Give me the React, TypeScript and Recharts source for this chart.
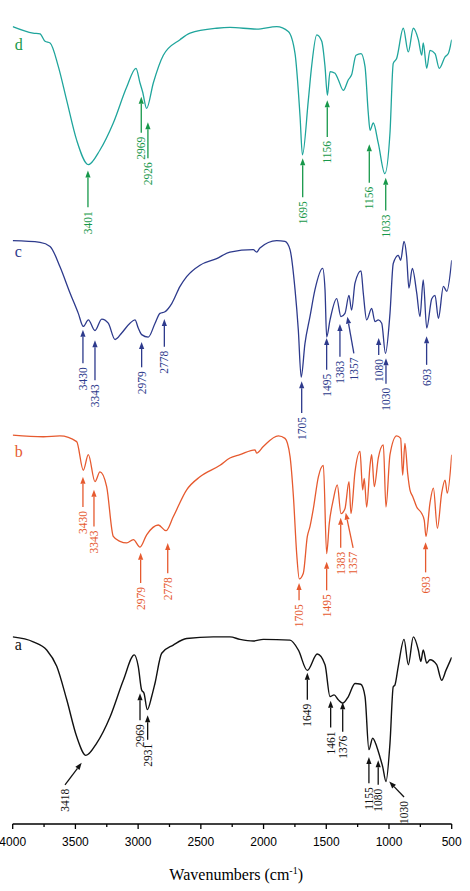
import React from 'react';
import { LineChart, Line, XAxis, YAxis, ReferenceLine, ReferenceDot, Label } from 'recharts';

// ---- spectra: [wavenumber (cm-1), offset transmittance (a.u.)] ----
const SPEC_D: [number, number][] = [[4000,97.6],[3838,96.8],[3782,96.7],[3742,95.8],[3702,95.6],[3636,92.7],[3570,88.6],[3490,83.7],[3397,80.7],[3304,82.5],[3198,85.8],[3091,90.2],[3017,92.5],[2985,90.7],[2964,89.6],[2932,87.6],[2879,90.7],[2799,94.1],[2666,96.0],[2586,96.8],[2374,97.4],[2268,97.5],[2055,97.3],[1895,97.6],[1803,97.0],[1749,94.3],[1709,86.6],[1690,81.9],[1643,88.6],[1617,92.7],[1576,96.6],[1536,95.8],[1510,92.7],[1491,89.2],[1470,92.1],[1430,91.9],[1404,91.1],[1364,89.8],[1324,91.1],[1298,91.7],[1263,94.1],[1223,94.3],[1191,92.7],[1165,87.0],[1151,84.9],[1125,85.8],[1085,83.3],[1033,79.6],[992,84.6],[966,93.1],[939,93.7],[886,97.4],[846,94.5],[806,97.4],[766,96.0],[739,94.1],[727,95.6],[699,92.5],[673,94.7],[633,94.3],[599,92.5],[553,93.9],[527,94.3],[500,96.0]];

const SPEC_C: [number, number][] = [[4000,71.4],[3782,71.2],[3702,70.7],[3623,68.2],[3543,65.0],[3477,62.5],[3437,60.9],[3397,61.7],[3344,60.4],[3290,61.8],[3238,61.3],[3184,59.3],[3131,60.1],[3065,61.3],[3025,61.7],[2999,60.7],[2972,59.9],[2919,59.6],[2865,61.3],[2826,62.5],[2786,62.7],[2732,63.7],[2666,65.8],[2613,67.0],[2507,68.4],[2374,69.2],[2268,70.0],[2082,70.3],[2055,70.0],[2029,70.5],[1895,71.4],[1829,71.3],[1789,70.3],[1749,65.4],[1723,60.5],[1700,54.7],[1670,58.8],[1630,62.1],[1590,65.4],[1529,68.0],[1510,65.4],[1497,59.6],[1470,61.7],[1417,64.3],[1383,62.1],[1351,62.5],[1319,64.7],[1298,62.9],[1271,66.2],[1223,67.7],[1205,65.0],[1178,61.7],[1138,63.1],[1112,61.5],[1085,61.7],[1058,61.3],[1028,57.6],[992,62.5],[966,68.6],[926,69.6],[907,69.0],[880,71.3],[859,69.4],[841,65.6],[814,68.0],[779,65.0],[753,62.1],[727,66.6],[699,60.7],[659,64.3],[633,64.7],[606,61.9],[566,65.8],[539,65.2],[500,69.0]];

const SPEC_B: [number, number][] = [[4000,47.6],[3756,47.4],[3623,47.5],[3490,46.8],[3437,43.3],[3397,45.2],[3344,41.9],[3304,43.1],[3251,41.3],[3198,35.2],[3145,34.6],[3091,34.4],[3038,34.8],[2985,33.9],[2932,35.4],[2839,36.6],[2778,35.9],[2720,37.6],[2613,40.9],[2507,42.5],[2347,43.9],[2268,44.8],[2188,45.2],[2068,45.8],[2055,45.4],[2002,46.2],[1882,47.5],[1829,47.2],[1789,45.0],[1762,40.1],[1736,33.1],[1715,30.0],[1683,30.7],[1651,35.2],[1630,36.4],[1603,38.6],[1563,42.5],[1523,43.9],[1497,33.1],[1476,36.8],[1444,39.7],[1412,41.5],[1383,38.0],[1351,38.6],[1319,41.9],[1303,38.0],[1271,43.1],[1231,45.6],[1210,40.9],[1197,42.3],[1178,38.8],[1151,43.9],[1138,45.2],[1117,41.3],[1085,44.8],[1045,46.4],[1024,38.8],[992,45.2],[939,47.5],[907,47.2],[891,42.7],[873,46.6],[851,42.9],[833,40.9],[811,40.1],[779,38.8],[739,38.0],[719,37.2],[705,35.2],[673,39.3],[646,41.1],[614,36.2],[580,40.5],[553,42.1],[535,40.5],[500,45.2]];

const SPEC_A: [number, number][] = [[4000,22.9],[3836,22.3],[3729,21.3],[3649,19.3],[3569,15.2],[3490,10.7],[3416,8.4],[3330,9.9],[3224,13.1],[3118,17.6],[3030,20.7],[2999,19.3],[2972,16.4],[2953,16.0],[2927,14.0],[2892,15.6],[2866,17.2],[2812,20.9],[2720,21.9],[2613,22.7],[2401,22.9],[2268,22.9],[2188,22.6],[2082,22.4],[2002,22.6],[1789,22.5],[1723,21.3],[1651,18.8],[1572,20.8],[1510,19.5],[1470,15.6],[1438,15.8],[1404,15.2],[1369,14.8],[1324,15.6],[1271,17.2],[1225,17.1],[1191,15.6],[1160,9.1],[1130,10.5],[1098,9.5],[1072,8.2],[1050,7.0],[1024,5.2],[992,9.9],[966,16.8],[953,17.0],[926,19.3],[880,22.6],[846,19.5],[806,22.9],[766,21.3],[746,19.9],[727,21.3],[699,19.7],[673,20.1],[620,19.5],[580,17.6],[546,18.8],[500,20.4]];

// ---- peak annotations: label, tip (x, y), tail (tx, ty) ----
type Ann = { label: string; x: number; y: number; tx?: number; ty: number };

const ANN_D: Ann[] = [
  { label: '3401', x: 3400, y: 80.0, ty: 75.5 },
  { label: '2969', x: 2975, y: 89.0, ty: 84.6 },
  { label: '2926', x: 2922, y: 85.9, ty: 81.5 },
  { label: '1695', x: 1688, y: 81.5, ty: 76.7 },
  { label: '1156', x: 1492, y: 88.6, ty: 84.1 },
  { label: '1156', x: 1157, y: 83.2, ty: 78.5 },
  { label: '1033', x: 1026, y: 79.1, ty: 75.1 },
];
const ANN_C: Ann[] = [
  { label: '3430', x: 3440, y: 60.5, ty: 56.4 },
  { label: '3343', x: 3344, y: 59.2, ty: 54.3 },
  { label: '2979', x: 2972, y: 59.0, ty: 55.9 },
  { label: '2778', x: 2791, y: 61.8, ty: 58.4 },
  { label: '1705', x: 1696, y: 54.2, ty: 50.3 },
  { label: '1495', x: 1497, y: 59.5, ty: 55.6 },
  { label: '1383', x: 1391, y: 61.2, ty: 57.2 },
  { label: '1357', x: 1332, y: 62.1, tx: 1280, ty: 57.6 },
  { label: '1080', x: 1082, y: 59.5, ty: 57.4 },
  { label: '1030', x: 1024, y: 57.0, ty: 53.9 },
  { label: '693', x: 700, y: 59.7, ty: 56.2 },
];
const ANN_B: Ann[] = [
  { label: '3430', x: 3440, y: 42.5, ty: 38.8 },
  { label: '3343', x: 3352, y: 40.9, ty: 36.4 },
  { label: '2979', x: 2980, y: 33.2, ty: 29.5 },
  { label: '2778', x: 2764, y: 34.4, ty: 30.7 },
  { label: '1705', x: 1717, y: 29.5, ty: 27.4 },
  { label: '1495', x: 1497, y: 32.1, ty: 28.6 },
  { label: '1383', x: 1385, y: 37.5, ty: 33.8 },
  { label: '1357', x: 1345, y: 38.1, tx: 1286, ty: 33.8 },
  { label: '693', x: 708, y: 34.5, ty: 30.8 },
];
const ANN_A: Ann[] = [
  { label: '3418', x: 3450, y: 7.5, tx: 3583, ty: 4.8 },
  { label: '2969', x: 2985, y: 16.0, ty: 12.7 },
  { label: '2931', x: 2924, y: 13.3, ty: 10.3 },
  { label: '1649', x: 1651, y: 18.5, ty: 15.2 },
  { label: '1461', x: 1465, y: 15.1, ty: 11.8 },
  { label: '1376', x: 1369, y: 14.9, ty: 11.3 },
  { label: '1155', x: 1160, y: 8.2, ty: 5.0 },
  { label: '1080', x: 1086, y: 7.8, ty: 4.8 },
  { label: '1030', x: 998, y: 5.2, tx: 880, ty: 3.3 },
];

const X_TICKS = [4000, 3750, 3500, 3250, 3000, 2750, 2500, 2250, 2000, 1750, 1500, 1250, 1000, 750, 500];

// trace letters with baseline value
const LETTERS: { name: string; y: number; color: string }[] = [
  { name: 'd', y: 94.7, color: '#17984a' },
  { name: 'c', y: 69.4, color: '#2d3a8c' },
  { name: 'b', y: 44.9, color: '#e65a2f' },
  { name: 'a', y: 21.3, color: '#111111' },
];

const SERIF = "'Liberation Serif', 'Times New Roman', serif";
const SANS = "'Liberation Sans', Arial, sans-serif";

const toRows = (s: [number, number][]) => s.map(([wn, t]) => ({ wn, t }));

const arrowShape = (label: string, color: string) => (p: any) => {
  const { x1, y1, x2, y2 } = p;
  const dx = x2 - x1;
  const dy = y2 - y1;
  const len = Math.hypot(dx, dy) || 1;
  const ux = dx / len;
  const uy = dy / len;
  const hl = 7;
  const hw = 2.6;
  const bx = x2 - ux * hl;
  const by = y2 - uy * hl;
  const pts = `${x2},${y2} ${bx - uy * hw},${by + ux * hw} ${bx + uy * hw},${by - ux * hw}`;
  return (
    <g>
      <line x1={x1} y1={y1} x2={bx} y2={by} stroke={color} strokeWidth={1.3} />
      <polygon points={pts} fill={color} />
      <text
        transform={`translate(${x1},${y1 + 4}) rotate(-90)`}
        textAnchor="end"
        dominantBaseline="central"
        fontFamily={SERIF}
        fontSize={11.5}
        fill={color}
      >
        {label}
      </text>
    </g>
  );
};

const XTick = (props: any) => {
  const { x, y, payload } = props;
  const v = payload.value;
  const major = v % 500 === 0;
  return (
    <g>
      <line x1={x} x2={x} y1={y} y2={y + (major ? 5 : 3)} stroke="#000" strokeWidth={1.3} />
      {major && (
        <text x={x} y={y + 22} textAnchor="middle" fontFamily={SANS} fontSize={12} fill="#000">
          {v}
        </text>
      )}
    </g>
  );
};

const renderAnns = (anns: Ann[], color: string, key: string) =>
  anns.map((a, i) => (
    <ReferenceLine
      key={`${key}-${i}`}
      segment={[
        { x: a.tx ?? a.x, y: a.ty },
        { x: a.x, y: a.y },
      ]}
      shape={arrowShape(a.label, color)}
    />
  ));

export default function App() {
  return (
    <div style={{ position: 'absolute', left: 0, top: 0, background: '#fff' }}>
      <LineChart width={470} height={891} margin={{ top: 7, right: 18.3, bottom: 0, left: 12.7 }}>
        <XAxis
          type="number"
          dataKey="wn"
          domain={[500, 4000]}
          reversed
          ticks={X_TICKS}
          interval={0}
          allowDataOverflow
          height={67}
          tickSize={0}
          tickMargin={0}
          tick={<XTick />}
          tickLine={false}
          axisLine={{ stroke: '#000', strokeWidth: 1.5 }}
        >
          <Label
            content={(props: any) => {
              const vb = props.viewBox || { x: 12.7, y: 824, width: 439 };
              const cx = vb.x + vb.width / 2 + 4;
              return (
                <text x={cx} y={vb.y + 56} textAnchor="middle" fontFamily={SERIF} fontSize={16} fill="#000">
                  Wavenumbers (cm
                  <tspan dy={-6} fontSize={10}>-1</tspan>
                  <tspan dy={6}>)</tspan>
                </text>
              );
            }}
          />
        </XAxis>
        <YAxis
          type="number"
          domain={[0, 100]}
          width={0}
          tick={false}
          tickLine={false}
          allowDataOverflow
          axisLine={{ stroke: '#000', strokeWidth: 1.5 }}
        />
        <Line data={toRows(SPEC_D)} dataKey="t" type="monotone" stroke="#1fa59c" strokeWidth={1.3} dot={false} isAnimationActive={false} />
        <Line data={toRows(SPEC_C)} dataKey="t" type="monotone" stroke="#2d3a8c" strokeWidth={1.3} dot={false} isAnimationActive={false} />
        <Line data={toRows(SPEC_B)} dataKey="t" type="monotone" stroke="#e65a2f" strokeWidth={1.3} dot={false} isAnimationActive={false} />
        <Line data={toRows(SPEC_A)} dataKey="t" type="monotone" stroke="#111111" strokeWidth={1.4} dot={false} isAnimationActive={false} />
        {renderAnns(ANN_D, '#17984a', 'd')}
        {renderAnns(ANN_C, '#2d3a8c', 'c')}
        {renderAnns(ANN_B, '#e65a2f', 'b')}
        {renderAnns(ANN_A, '#111111', 'a')}
        {LETTERS.map((l) => (
          <ReferenceDot
            key={l.name}
            x={4000}
            y={l.y}
            r={0}
            shape={(p: any) => (
              <text x={p.cx + 2} y={p.cy} fontFamily={SERIF} fontSize={16} fill={l.color}>
                {l.name}
              </text>
            )}
          />
        ))}
      </LineChart>
    </div>
  );
}
